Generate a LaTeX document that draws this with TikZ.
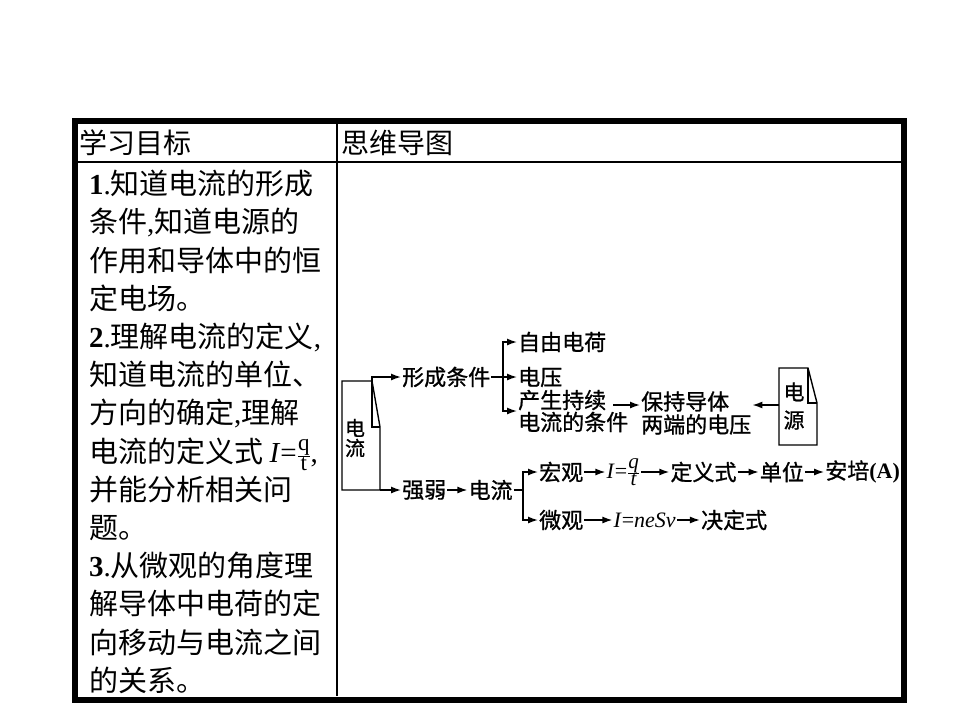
\documentclass[tikz,border=0pt]{standalone}
\usepackage{fontspec}
\setmainfont{Liberation Serif}
\newfontfamily\cjk{Noto Sans CJK SC}
\newfontfamily\cjkb[FakeBold=1]{Noto Sans CJK SC}
\usetikzlibrary{arrows.meta,positioning}

% small stacked fraction: #1 font setup, #2 over #3
\newcommand\frc[3]{$\frac{\mbox{#1#2}}{\mbox{#1#3}}$}

\begin{document}
\begin{tikzpicture}[
            x=1pt, y=-1pt,
            hd/.style={font=\cjk\fontsize{28}{30}\selectfont, anchor=west, inner sep=0pt},
            obj/.style={font=\cjk\fontsize{29}{38.2}\selectfont, align=left,
            anchor=north west, inner sep=0pt},
            mm/.style={font=\cjkb\fontsize{22}{22}\selectfont, inner sep=1pt, align=left},
            fm/.style={font=\rmfamily\fontsize{22}{22}\selectfont, inner sep=1pt},
            ar/.style={-{Latex[length=10pt,width=7pt]}, line width=1.4pt},
            ln/.style={line width=1.4pt},
            frm/.style={line width=6pt}
        ]
            \useasboundingbox (0,0) rectangle (960,720);
% table
            \draw[frm] (74.5,121) rectangle (904,699.5);
            \draw[line width=2.5pt] (77,162) -- (901,162);
            \draw[line width=2pt] (337,124) -- (337,696);
            \node[hd] (h1) at (79,143)  {学习目标};
            \node[hd] (h2) at (341,143) {思维导图};
% learning goals
            \node[obj] (goal) at (89,170) {\textrm{\textbf{1}.}知道电流的形成\\
                条件\textrm{,}知道电源的\\
                作用和导体中的恒\\
                定电场。\\
                \textrm{\textbf{2}.}理解电流的定义\textrm{,}\\
                知道电流的单位、\\
                方向的确定\textrm{,}理解\\
                电流的定义式 \textrm{\textit{I}=}\smash{\frc{\rmfamily\fontsize{23}{23}\selectfont}{q}{t}}\textrm{,}\\
                并能分析相关问\\
                题。\\
                \textrm{\textbf{3}.}从微观的角度理\\
                解导体中电荷的定\\
                向移动与电流之间\\
                的关系。};
% current box
            \draw[ln] (342,381) -- (372,381) -- (380,427) -- (380,490) -- (342,490) -- cycle;
            \draw[ln] (372,381) -- (372,427) -- (380,427);
            \node[mm, font=\cjkb\fontsize{20}{20}\selectfont] (dl) at (355,438) {电\\流};
            \coordinate (o1) at (372,381);
            \coordinate (o2) at (380,490);
% formation branch
            \node[mm, anchor=west] (xc) at (401,377) {形成条件};
            \coordinate (b1) at (503,377);
            \node[mm, anchor=west] (zy) at (517,342) {自由电荷};
            \node[mm, anchor=west] (dy) at (517,377) {电压};
            \node[mm, anchor=west] (tj) at (517,411) {产生持续\\电流的条件};
            \coordinate (t1) at (613,405);
            \node[mm, anchor=west, font=\cjkb\fontsize{22}{23}\selectfont] (bc) at (640,413) {保持导体\\两端的电压};
% source box
            \draw[ln] (779,368) -- (808,368) -- (817,403) -- (817,445) -- (779,445) -- cycle;
            \draw[ln] (808,368) -- (808,403) -- (817,403);
            \node[mm, font=\cjkb\fontsize{21}{28}\selectfont] (dyt) at (794,406) {电\\源};
            \coordinate (s1) at (779,405);

            \draw[ar] (o1) |- (xc.west);
            \draw[ln] (xc.east) -- (b1);
            \draw[ar] (b1) |- (zy.west);
            \draw[ar] (b1) -- (dy.west);
            \draw[ar] (b1) |- (tj.west);
            \draw[ar] (t1) -- (bc.west |- t1);
            \draw[ar] (s1) -- (bc.east |- s1);
% strength branch
            \node[mm, anchor=west] (qr) at (401,490) {强弱};
            \node[mm, right=20pt of qr] (dl2) {电流};
            \coordinate (b2) at (523,490);
            \node[mm, anchor=west] (hg) at (538,472) {宏观};
            \node[mm, anchor=west] (wg) at (538,520) {微观};
            \node[fm, right=21pt of hg] (eq1) {\textit{I}=\frc{\rmfamily\itshape\fontsize{21}{21}\selectfont}{q}{t}};
            \node[mm, right=28pt of eq1] (dys) {定义式};
            \node[mm, right=21pt of dys] (dw)  {单位};
            \node[mm, right=19pt of dw]  (ap)  {安培\textrm{\textbf{(A)}}};
            \node[fm, right=28pt of wg]  (eq2) {\textit{I}=\textit{neSv}};
            \node[mm, right=23pt of eq2] (jds) {决定式};

            \draw[ar] (o2) -- (qr.west);
            \draw[ar] (qr) -- (dl2);
            \draw[ln] (dl2.east) -- (b2);
            \draw[ar] (b2) |- (hg.west);
            \draw[ar] (b2) |- (wg.west);
            \foreach \a/\b in {hg/eq1, eq1/dys, dys/dw, dw/ap, wg/eq2, eq2/jds}
                \draw[ar] (\a) -- (\b);
        \end{tikzpicture}
\end{document}
